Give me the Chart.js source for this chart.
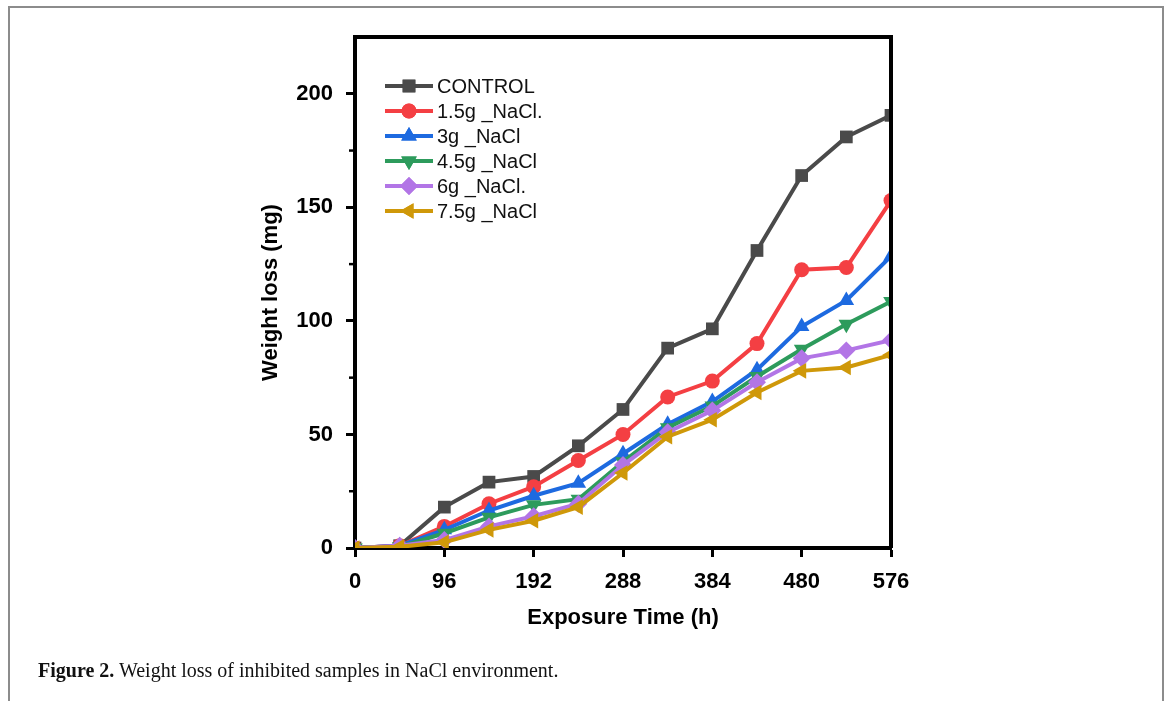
<!DOCTYPE html>
<html>
<head>
<meta charset="utf-8">
<script src="https://cdn.jsdelivr.net/npm/chart.js@4.4.0/dist/chart.umd.min.js"></script>
<style>
  html, body { margin: 0; padding: 0; background: #fff; }
  #wrap { position: relative; width: 1171px; height: 701px; overflow: hidden; }
  #frame { position: absolute; left: 8px; top: 6px; width: 1156px; height: 760px; border: 2px solid #8c8c8c; box-sizing: border-box; }
  #chart { position: absolute; left: 0; top: 0; }
  #caption { position: absolute; left: 38px; top: 659px; font-family: "Liberation Serif", "DejaVu Serif", serif; font-size: 20px; color: #111; white-space: nowrap; }
</style>
</head>
<body>
<div id="wrap">
  <div id="frame"></div>
  <canvas id="chart" width="1171" height="701"></canvas>
  <div id="caption"><b>Figure 2.</b> Weight loss of inhibited samples in NaCl environment.</div>
</div>
<script>
// exposure time (h) and weight loss (mg)
const hours = [0, 48, 96, 144, 192, 240, 288, 336, 384, 432, 480, 528, 576];
const control = [0, 1, 18, 29, 31.5, 45, 61, 88, 96.5, 131, 164, 181, 190.5];
const nacl15 = [0, 1, 9.5, 19.5, 27, 38.5, 50, 66.5, 73.5, 90, 122.5, 123.5, 153];
const nacl3 = [0, 1, 8, 16.5, 23, 28.5, 41.5, 54.5, 64.5, 78.5, 97.5, 109, 128.5];
const nacl45 = [0, 0.5, 6.5, 13.5, 19, 21.5, 38, 53, 62.5, 75.5, 87.5, 98.5, 108.5];
const nacl6 = [0, 1, 3.5, 9.5, 14, 19.5, 36.5, 51, 60.5, 73, 83.5, 87, 91.5];
const nacl75 = [0, 0.5, 2.5, 8, 12, 18, 33, 49, 56.5, 68.5, 78, 79.5, 85];

const seriesLabels = ['CONTROL', '1.5g _NaCl.', '3g _NaCl', '4.5g _NaCl', '6g _NaCl.', '7.5g _NaCl'];
const seriesValues = [control, nacl15, nacl3, nacl45, nacl6, nacl75];
const colors = ['#4a4a4a', '#f43f43', '#1d6ae0', '#2d9b5c', '#b275e6', '#cf9809'];
const styles = ['rect', 'circle', 'triangle', 'triangle', 'rectRot', 'triangle'];
const rotations = [0, 0, 0, 180, 0, 270];
const radii = [9, 7.5, 9, 9, 9, 9];

const xTicks = [0, 96, 192, 288, 384, 480, 576];
const yMinor = [25, 75, 125, 175];

const datasets = seriesValues.map((vals, i) => ({
  label: seriesLabels[i],
  data: vals.map((v, j) => ({ x: hours[j], y: v })),
  borderColor: colors[i],
  backgroundColor: colors[i],
  borderWidth: 4,
  pointStyle: styles[i],
  rotation: rotations[i],
  pointRadius: radii[i],
  pointBorderWidth: 0,
  pointHoverRadius: radii[i],
  order: seriesValues.length - i,
  tension: 0
}));

const tickFont = { family: 'Liberation Sans, Arial, sans-serif', size: 22, weight: 'bold' };

// frame, minor ticks and in-plot legend
const extras = {
  id: 'extras',
  afterDraw(chart) {
    const { ctx, chartArea: a, scales } = chart;
    ctx.save();
    ctx.strokeStyle = '#000';
    ctx.lineWidth = 4;
    ctx.beginPath();
    ctx.moveTo(a.left, a.top);
    ctx.lineTo(a.right, a.top);
    ctx.lineTo(a.right, a.bottom);
    ctx.stroke();

    ctx.lineWidth = 2.5;
    yMinor.forEach(v => {
      const y = scales.y.getPixelForValue(v);
      ctx.beginPath();
      ctx.moveTo(a.left, y);
      ctx.lineTo(a.left - 6, y);
      ctx.stroke();
    });

    const lx = a.left + 30;
    const ly = a.top + 49;
    chart.data.datasets.forEach((ds, i) => {
      const y = ly + i * 25;
      ctx.strokeStyle = ds.borderColor;
      ctx.lineWidth = 4;
      ctx.beginPath();
      ctx.moveTo(lx, y);
      ctx.lineTo(lx + 48, y);
      ctx.stroke();
      ctx.fillStyle = ds.backgroundColor;
      Chart.helpers.drawPoint(ctx, {
        pointStyle: ds.pointStyle, rotation: ds.rotation,
        radius: ds.pointRadius, borderWidth: 0
      }, lx + 24, y);
      ctx.fill();
      ctx.fillStyle = '#111';
      ctx.font = '20px "Liberation Sans", Arial, sans-serif';
      ctx.textBaseline = 'middle';
      ctx.textAlign = 'left';
      ctx.fillText(ds.label, lx + 52, y + 1);
    });
    ctx.restore();
  }
};

new Chart(document.getElementById('chart'), {
  type: 'line',
  data: { datasets },
  options: {
    responsive: false,
    animation: false,
    layout: { padding: { left: 254, top: 37, right: 280, bottom: 66 } },
    plugins: { legend: { display: false }, tooltip: { enabled: false } },
    scales: {
      x: {
        type: 'linear',
        min: 0, max: 576,
        afterBuildTicks: s => { s.ticks = xTicks.map(v => ({ value: v })); },
        afterFit: s => { s.height = 87; },
        ticks: { color: '#000', font: tickFont, padding: 12, maxRotation: 0 },
        grid: { drawOnChartArea: false, drawTicks: true, tickLength: 9, tickColor: '#000', tickWidth: 3 },
        border: { color: '#000', width: 4 },
        title: { display: true, text: 'Exposure Time (h)', color: '#000', font: tickFont }
      },
      y: {
        min: 0, max: 225,
        afterFit: s => { s.width = 101; },
        ticks: { stepSize: 50, includeBounds: false, color: '#000', font: tickFont, padding: 13 },
        grid: { drawOnChartArea: false, drawTicks: true, tickLength: 9, tickColor: '#000', tickWidth: 3 },
        border: { color: '#000', width: 4 },
        title: { display: true, text: 'Weight loss (mg)', color: '#000', font: tickFont }
      }
    }
  },
  plugins: [extras]
});
</script>
</body>
</html>
